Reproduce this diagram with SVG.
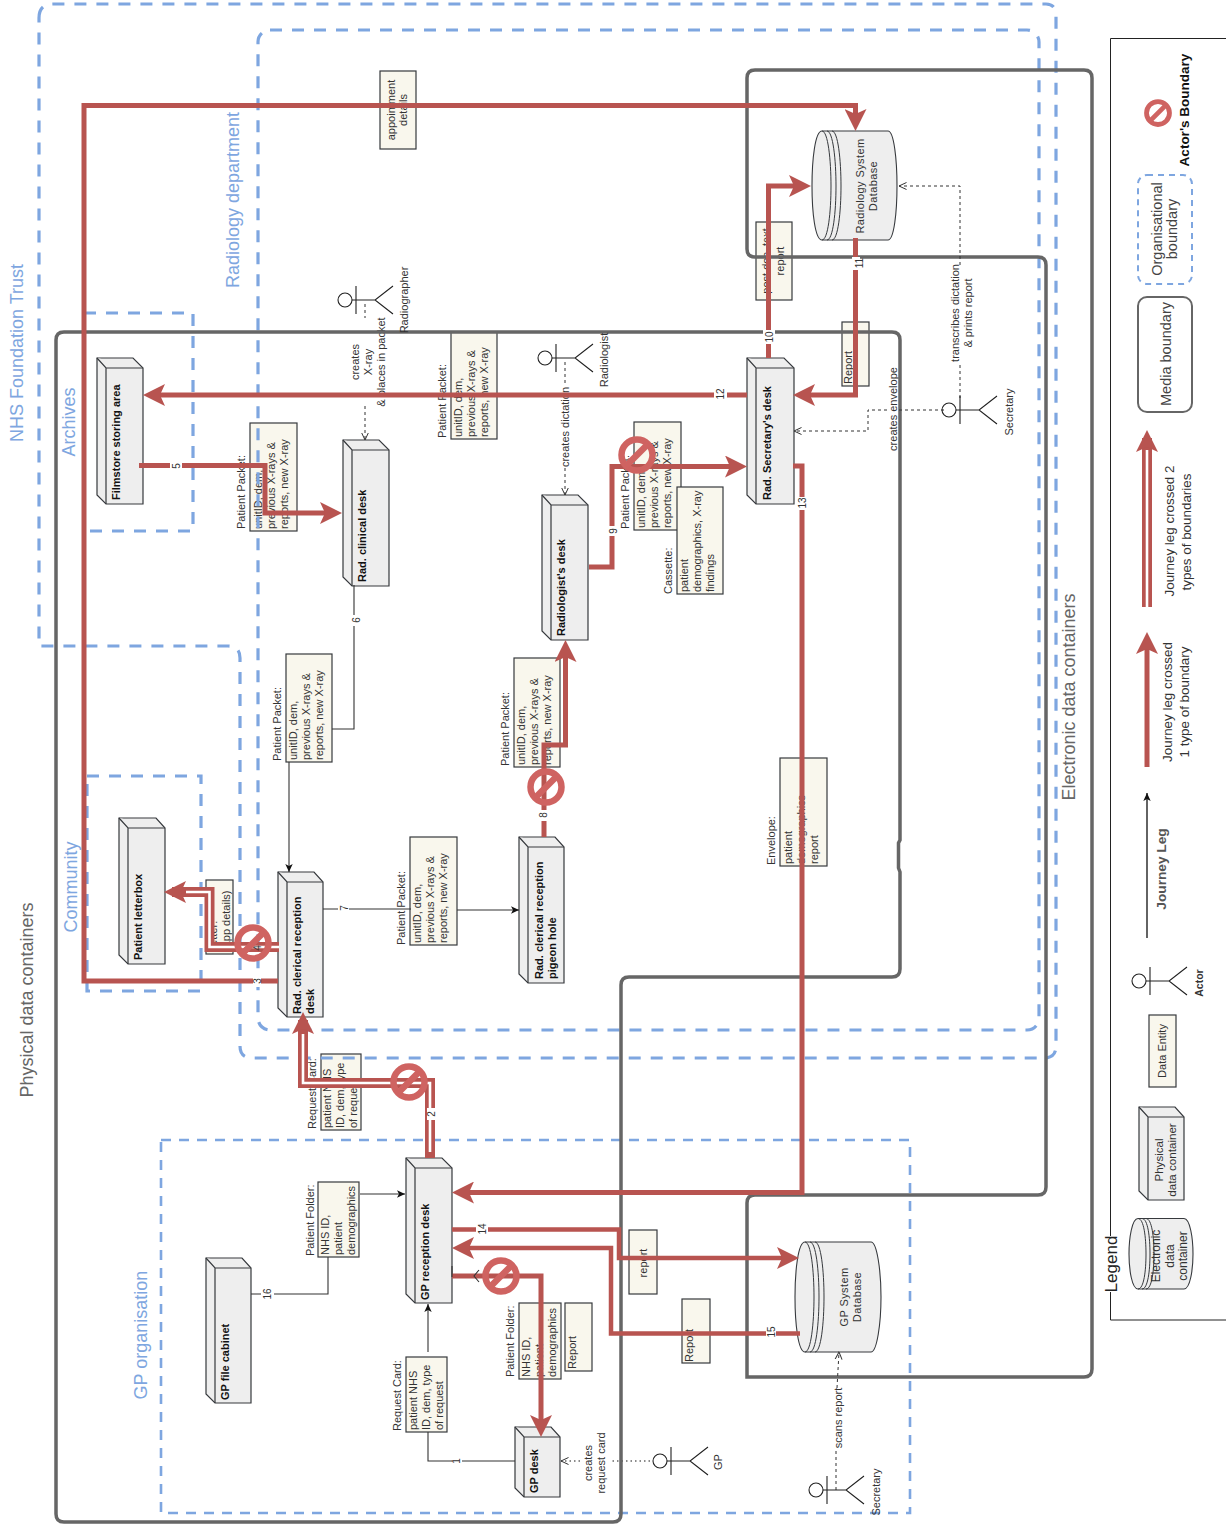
<svg xmlns="http://www.w3.org/2000/svg" width="1226" height="1526" viewBox="0 0 1226 1526">
<style>
text{font-family:"Liberation Sans",Arial,sans-serif;font-size:11px;fill:#333;dominant-baseline:central}
.m{text-anchor:middle}
.b{font-weight:bold;fill:#111}
.big{font-size:18px;fill:#7EA6E0;text-anchor:middle}
.grey{font-size:18px;fill:#666;text-anchor:middle}
.num{font-size:10px;text-anchor:middle}
.leg{font-size:14.500px;fill:#444;text-anchor:middle}
.j{font-size:13.400px;text-anchor:middle}
.face{fill:#eee;stroke:#36393d;stroke-width:1.2}
.data{fill:#f9f7ed;stroke:#36393d;stroke-width:1.2}
.db{fill:#eee;stroke:#36393d;stroke-width:1.1}
.arc{fill:none;stroke:#36393d;stroke-width:1}
.org{fill:none;stroke:#7EA6E0;stroke-width:3.2;stroke-dasharray:12 10}
.orgs{fill:none;stroke:#7EA6E0;stroke-width:2.6;stroke-dasharray:10 8}
.media{fill:none;stroke:#666;stroke-width:3.5}
.ra{fill:none;stroke:#B85450;stroke-width:5;marker-end:url(#head)}
.dbl{fill:none;stroke:#B85450;stroke-width:10;marker-end:url(#head)}
.core{fill:none;stroke:#fff;stroke-width:2.6}
.thin{fill:none;stroke:#333;stroke-width:1.1}
.ta{fill:none;stroke:#333;stroke-width:1.1;marker-end:url(#tip)}
.dash{fill:none;stroke:#333;stroke-width:1;stroke-dasharray:3 3;marker-end:url(#open)}
.dot{fill:none;stroke:#666;stroke-width:1.5;stroke-dasharray:1.5 3;marker-end:url(#open)}
.w{fill:#fff}
.act{fill:none;stroke:#222;stroke-width:1.1}
</style>
<defs>
<marker id="head" markerUnits="userSpaceOnUse" viewBox="0 -11 22 22" markerWidth="22" markerHeight="22" refX="14" refY="0" orient="auto"><path d="M0-11 22 0 0 11 5 0Z" fill="#B85450"/></marker>
<marker id="tip" markerUnits="userSpaceOnUse" viewBox="0 -4 8 8" markerWidth="8" markerHeight="8" refX="8" refY="0" orient="auto"><path d="M0-3.7 8 0 0 3.7 2 0Z" fill="#111"/></marker>
<marker id="open" markerUnits="userSpaceOnUse" viewBox="0 -5 8 10" markerWidth="8" markerHeight="10" refX="7.5" refY="0" orient="auto"><path d="M0-3.5 7.5 0 0 3.5" fill="none" stroke="#333"/></marker>
<g id="actor" class="act"><circle cx="0" cy="0" r="7"/><path d="M11-14V14M7 0H30M48-14 30 0 48 14"/></g>
<g id="no"><circle cx="0" cy="0" r="15.5" fill="none" stroke="#CF6361" stroke-width="6.5"/><path d="M-11 11 11-11" stroke="#CF6361" stroke-width="6.5"/></g>
</defs>

<g id="filmstore"><path class="face" d="M97 358H133L143 368V504H106L97 495Z"/><path class="face" d="M97 358 106 368H143M106 368V504"/><text class="b" x="116" y="500" transform="rotate(-90 116 500)">Filmstore storing area</text></g>
<g id="clinical-desk"><path class="face" d="M343 440H379L389 450V586H352L343 577Z"/><path class="face" d="M343 440 352 450H389M352 450V586"/><text class="b" x="362" y="582" transform="rotate(-90 362 582)">Rad. clinical desk</text></g>
<g id="radiologist-desk"><path class="face" d="M542 495H578L588 505V640H551L542 631Z"/><path class="face" d="M542 495 551 505H588M551 505V640"/><text class="b" x="561" y="636" transform="rotate(-90 561 636)">Radiologist's desk</text></g>
<g id="secretary-desk"><path class="face" d="M747 358H784L794 368V504H756L747 495Z"/><path class="face" d="M747 358 756 368H794M756 368V504"/><text class="b" x="767" y="500" transform="rotate(-90 767 500)">Rad. Secretary's desk</text></g>
<g id="letterbox"><path class="face" d="M119 818H156L165 828V964H128L119 955Z"/><path class="face" d="M119 818 128 828H165M128 828V964"/><text class="b" x="138" y="960" transform="rotate(-90 138 960)">Patient letterbox</text></g>
<g id="clerical-desk"><path class="face" d="M278 872H314L323 882V1017H287L278 1008Z"/><path class="face" d="M278 872 287 882H323M287 882V1017"/><text class="b" x="297" y="1014" transform="rotate(-90 297 1014)">Rad. clerical reception</text><text class="b" x="310" y="1014" transform="rotate(-90 310 1014)">desk</text></g>
<g id="pigeon-hole"><path class="face" d="M519 837H555L564 847V983H528L519 974Z"/><path class="face" d="M519 837 528 847H564M528 847V983"/><text class="b" x="539" y="979" transform="rotate(-90 539 979)">Rad. clerical reception</text><text class="b" x="552" y="979" transform="rotate(-90 552 979)">pigeon hole</text></g>
<g id="gp-reception"><path class="face" d="M406 1158H442L452 1168V1303H415L406 1294Z"/><path class="face" d="M406 1158 415 1168H452M415 1168V1303"/><text class="b" x="425" y="1300" transform="rotate(-90 425 1300)">GP reception desk</text></g>
<g id="gp-cabinet"><path class="face" d="M206 1258H242L251 1268V1403H215L206 1394Z"/><path class="face" d="M206 1258 215 1268H251M215 1268V1403"/><text class="b" x="225" y="1400" transform="rotate(-90 225 1400)">GP file cabinet</text></g>
<g id="gp-desk"><path class="face" d="M515 1427H551L560 1437V1497H524L515 1488Z"/><path class="face" d="M515 1427 524 1437H560M524 1437V1497"/><text class="b" x="534" y="1493" transform="rotate(-90 534 1493)">GP desk</text></g>

<g id="radiology-db"><path class="db" d="M822 131H888C894 131 897 160 897 186 897 212 894 240 888 240H822C815 240 812 212 812 186 812 160 815 131 822 131Z"/><path class="arc" d="M822 131C828 131 831 160 831 186 831 212 828 240 822 240M827 131C833 131 836 160 836 186 836 212 833 240 827 240M832 131C838 131 841 160 841 186 841 212 838 240 832 240"/><text class="m" x="860" y="186" transform="rotate(-90 860 186)" style="letter-spacing:.4px">Radiology System</text><text class="m" x="873" y="186" transform="rotate(-90 873 186)" style="letter-spacing:.4px">Database</text></g>
<g id="gp-db"><path class="db" d="M805 1242H871C877 1242 881 1271 881 1297 881 1323 877 1352 871 1352H805C798 1352 795 1323 795 1297 795 1271 798 1242 805 1242Z"/><path class="arc" d="M805 1242C811 1242 814 1271 814 1297 814 1323 811 1352 805 1352M810 1242C816 1242 819 1271 819 1297 819 1323 816 1352 810 1352M815 1242C821 1242 824 1271 824 1297 824 1323 821 1352 815 1352"/><text class="m" x="844" y="1297" transform="rotate(-90 844 1297)" style="letter-spacing:.4px">GP System</text><text class="m" x="857" y="1297" transform="rotate(-90 857 1297)" style="letter-spacing:.4px">Database</text></g>

<g id="data-appointment"><rect class="data" x="380" y="71" width="36" height="78"/><text class="m" x="391" y="110" transform="rotate(-90 391 110)">appointment</text><text class="m" x="403" y="110" transform="rotate(-90 403 110)">details</text></g>
<g id="data-postdoc"><rect class="data" x="756" y="222" width="36" height="78"/><text class="m" x="766" y="261" transform="rotate(-90 766 261)">post doc. text</text><text class="m" x="780" y="261" transform="rotate(-90 780 261)">report</text></g>
<g id="data-report-a"><rect class="data" x="842" y="322" width="27" height="64"/><text x="848" y="384" transform="rotate(-90 848 384)">Report</text></g>
<g id="data-packet-1"><text x="241" y="529" transform="rotate(-90 241 529)">Patient Packet:</text><rect class="data" x="250" y="423" width="47" height="108"/><text x="258" y="529" transform="rotate(-90 258 529)">unitID, dem,</text><text x="271" y="529" transform="rotate(-90 271 529)">previous X-rays &amp;</text><text x="284" y="529" transform="rotate(-90 284 529)">reports, new X-ray</text></g>
<g id="data-packet-2"><text x="442" y="438" transform="rotate(-90 442 438)">Patient Packet:</text><rect class="data" x="451" y="332" width="46" height="107"/><text x="458" y="437" transform="rotate(-90 458 437)">unitID, dem,</text><text x="471" y="437" transform="rotate(-90 471 437)">previous X-rays &amp;</text><text x="484" y="437" transform="rotate(-90 484 437)">reports, new X-ray</text></g>
<g id="data-packet-3"><text x="277" y="761" transform="rotate(-90 277 761)">Patient Packet:</text><rect class="data" x="286" y="654" width="46" height="108"/><text x="293" y="760" transform="rotate(-90 293 760)">unitID, dem,</text><text x="306" y="760" transform="rotate(-90 306 760)">previous X-rays &amp;</text><text x="319" y="760" transform="rotate(-90 319 760)">reports, new X-ray</text></g>
<g id="data-packet-4"><text x="505" y="766" transform="rotate(-90 505 766)">Patient Packet:</text><rect class="data" x="514" y="658" width="46" height="109"/><text x="521" y="765" transform="rotate(-90 521 765)">unitID, dem,</text><text x="534" y="765" transform="rotate(-90 534 765)">previous X-rays &amp;</text><text x="547" y="765" transform="rotate(-90 547 765)">reports, new X-ray</text></g>
<g id="data-packet-5"><text x="401" y="945" transform="rotate(-90 401 945)">Patient Packet:</text><rect class="data" x="410" y="837" width="47" height="108"/><text x="417" y="943" transform="rotate(-90 417 943)">unitID, dem,</text><text x="430" y="943" transform="rotate(-90 430 943)">previous X-rays &amp;</text><text x="443" y="943" transform="rotate(-90 443 943)">reports, new X-ray</text></g>
<g id="data-packet-6"><text x="625" y="529" transform="rotate(-90 625 529)">Patient Packet:</text><rect class="data" x="634" y="422" width="47" height="108"/><text x="641" y="528" transform="rotate(-90 641 528)">unitID, dem,</text><text x="654" y="528" transform="rotate(-90 654 528)">previous X-rays &amp;</text><text x="667" y="528" transform="rotate(-90 667 528)">reports, new X-ray</text></g>
<g id="data-cassette"><text x="668" y="594" transform="rotate(-90 668 594)">Cassette:</text><rect class="data" x="677" y="487" width="46" height="107"/><text x="684" y="592" transform="rotate(-90 684 592)">patient</text><text x="697" y="592" transform="rotate(-90 697 592)">demographics, X-ray</text><text x="710" y="592" transform="rotate(-90 710 592)">findings</text></g>
<g id="data-envelope"><text x="771" y="865" transform="rotate(-90 771 865)">Envelope:</text><rect class="data" x="780" y="758" width="47" height="108"/><text x="788" y="864" transform="rotate(-90 788 864)">patient</text><text x="801" y="864" transform="rotate(-90 801 864)">demographics</text><text x="814" y="864" transform="rotate(-90 814 864)">report</text></g>
<g id="data-letter"><rect class="data" x="206" y="880" width="27" height="74"/><text x="213" y="952" transform="rotate(-90 213 952)">Letter:</text><text x="226" y="951" transform="rotate(-90 226 951)">(app details)</text></g>
<g id="data-request-1"><text x="312" y="1129" transform="rotate(-90 312 1129)">Request Card:</text><rect class="data" x="321" y="1054" width="40" height="76"/><text x="327" y="1128" transform="rotate(-90 327 1128)">patient NHS</text><text x="340" y="1128" transform="rotate(-90 340 1128)">ID, dem, type</text><text x="353" y="1128" transform="rotate(-90 353 1128)">of request</text></g>
<g id="data-folder-1"><text x="310" y="1256" transform="rotate(-90 310 1256)">Patient Folder:</text><rect class="data" x="318" y="1182" width="41" height="75"/><text x="325" y="1255" transform="rotate(-90 325 1255)">NHS ID,</text><text x="338" y="1255" transform="rotate(-90 338 1255)">patient</text><text x="351" y="1255" transform="rotate(-90 351 1255)">demographics</text></g>
<g id="data-request-2"><text x="397" y="1431" transform="rotate(-90 397 1431)">Request Card:</text><rect class="data" x="406" y="1357" width="41" height="75"/><text x="413" y="1430" transform="rotate(-90 413 1430)">patient NHS</text><text x="426" y="1430" transform="rotate(-90 426 1430)">ID, dem, type</text><text x="439" y="1430" transform="rotate(-90 439 1430)">of request</text></g>
<g id="data-folder-2"><text x="510" y="1377" transform="rotate(-90 510 1377)">Patient Folder:</text><rect class="data" x="519" y="1303" width="42" height="76"/><text x="526" y="1377" transform="rotate(-90 526 1377)">NHS ID,</text><text x="539" y="1377" transform="rotate(-90 539 1377)">patient</text><text x="552" y="1377" transform="rotate(-90 552 1377)">demographics</text></g>
<g id="data-report-b"><rect class="data" x="565" y="1303" width="27" height="68"/><text x="572" y="1369" transform="rotate(-90 572 1369)">Report</text></g>
<g id="data-report-c"><rect class="data" x="629" y="1230" width="28" height="64"/><text class="m" x="643" y="1263" transform="rotate(-90 643 1263)">report</text></g>
<g id="data-report-d"><rect class="data" x="682" y="1299" width="28" height="64"/><text x="689" y="1362" transform="rotate(-90 689 1362)">Report</text></g>

<g id="annotations">
<text class="m" x="355" y="362" transform="rotate(-90 355 362)">creates</text><text class="m" x="368" y="362" transform="rotate(-90 368 362)">X-ray</text><text class="m" x="381" y="362" transform="rotate(-90 381 362)">&amp; places in packet</text>
<text class="m" x="565" y="427" transform="rotate(-90 565 427)">creates dictation</text>
<text class="m" x="955" y="313" transform="rotate(-90 955 313)">transcribes dictation</text><text class="m" x="968" y="313" transform="rotate(-90 968 313)">&amp; prints report</text>
<text class="m" x="893" y="409" transform="rotate(-90 893 409)">creates envelope</text>
<text class="m" x="588" y="1463" transform="rotate(-90 588 1463)">creates</text><text class="m" x="601" y="1463" transform="rotate(-90 601 1463)">request card</text>
<text class="m" x="838" y="1418" transform="rotate(-90 838 1418)">scans report</text>
</g>

<g id="boundaries">
<path class="org" d="M39 18Q39 4 53 4H1046Q1056 4 1056 16V1046Q1056 1058 1044 1058H252Q240 1058 240 1046V658Q240 646 228 646H39Z"/>
<rect class="org" x="258" y="30" width="781" height="1000" rx="12"/>
<rect class="org" x="84" y="313" width="109" height="218"/>
<rect class="org" x="87" y="776" width="114" height="215"/>
<rect class="orgs" x="161" y="1140" width="749" height="373"/>
<path class="media" d="M64 332H892Q900 332 900 340V840L898.500 843V868L900 872V969Q900 977 892 977H629Q621 977 621 985V1514Q621 1522 613 1522H64Q56 1522 56 1514V340Q56 332 64 332Z"/>
<path class="media" d="M755 70H1084Q1092 70 1092 78V1369Q1092 1377 1084 1377H747V1203Q747 1195 755 1195H1038Q1046 1195 1046 1187V265Q1046 257 1038 257H755Q747 257 747 249V78Q747 70 755 70Z"/>
</g>

<g id="connectors">
<path class="ra" d="M278 981H84V105.500H855.500V123"/>
<path class="ra" d="M139 465.500H265V513H334"/>
<path class="ra" d="M747 395H151"/>
<path class="ra" d="M768.500 358V186H803"/>
<path class="ra" d="M855.500 238V395H801"/>
<path class="ra" d="M793 466H802V1192.500H460"/>
<path class="ra" style="stroke-width:4.500" d="M452 1229.500H619V1258H791"/>
<path class="ra" style="stroke-width:4.500" d="M800 1333.500H611V1248H460"/>
<path class="ra" d="M452 1276H541V1429"/>
<path class="ra" d="M544 837V745H565.500V648"/>
<path class="ra" d="M589 567H612V466.500H739"/>
<path class="dbl" d="M279 947H209.500V892H172"/>
<path class="core" d="M279 947H209.500V892H186"/>
<path class="dbl" d="M430 1158V1083H303V1020"/>
<path class="core" d="M430 1152V1083H303V1034"/>
<path class="thin" d="M354 585V729H332"/><path class="ta" d="M289 762V872"/>
<path class="thin" d="M323 909H411"/><path class="ta" d="M457 910H519"/>
<path class="thin" d="M515 1461H428V1432"/><path class="ta" d="M428 1352V1304"/>
<path class="thin" d="M251 1294H328V1257"/><path class="ta" d="M360 1194H405"/>
<path class="thin" d="M452 1266V1277M479 1270 474 1276 479 1282"/>
<path class="dash" d="M365 304V318M365 406V440"/>
<path class="dash" d="M565 362V386M565 468V495"/>
<path class="dash" d="M960 398V364M960 265V186H899"/>
<path class="dash" d="M944 410H899M887 410H868V431H794"/>
<path class="dot" d="M650 1461H610M580 1461H561"/>
<path class="dash" d="M836 1490V1450M837 1388 839 1352"/>
<rect class="w" x="170" y="460" width="12" height="11"/><text class="num" x="176" y="466" transform="rotate(-90 176 466)">5</text>
<rect class="w" x="714" y="388" width="13" height="14"/><text class="num" x="720" y="394" transform="rotate(-90 720 394)">12</text>
<rect class="w" x="763" y="330" width="12" height="14"/><text class="num" x="769" y="337" transform="rotate(-90 769 337)">10</text>
<rect class="w" x="852" y="257" width="8" height="13"/><text class="num" x="859" y="263" transform="rotate(-90 859 263)">11</text>
<rect class="w" x="797" y="497" width="10" height="13"/><text class="num" x="802" y="503" transform="rotate(-90 802 503)">13</text>
<rect class="w" x="476" y="1224" width="12" height="11"/><text class="num" x="482" y="1229" transform="rotate(-90 482 1229)">14</text>
<rect class="w" x="766" y="1328" width="10" height="11"/><text class="num" x="771" y="1332" transform="rotate(-90 771 1332)">15</text>
<rect class="w" x="261" y="1288" width="13" height="12"/><text class="num" x="267" y="1294" transform="rotate(-90 267 1294)">16</text>
<rect class="w" x="538" y="810" width="10" height="11"/><text class="num" x="543" y="815" transform="rotate(-90 543 815)">8</text>
<rect class="w" x="608" y="526" width="9" height="10"/><text class="num" x="613" y="531" transform="rotate(-90 613 531)">9</text>
<rect class="w" x="351" y="615" width="10" height="11"/><text class="num" x="356" y="620" transform="rotate(-90 356 620)">6</text>
<rect class="w" x="338" y="903" width="11" height="11"/><text class="num" x="344" y="908" transform="rotate(-90 344 908)">7</text>
<rect class="w" x="452" y="1456" width="10" height="10"/><text class="num" x="456" y="1461" transform="rotate(-90 456 1461)">1</text>
<rect class="w" x="427" y="1108" width="9" height="12"/><text class="num" x="431" y="1114" transform="rotate(-90 431 1114)">2</text>
<rect class="w" x="253" y="975" width="8" height="12"/><text class="num" x="257" y="981" transform="rotate(-90 257 981)">3</text>
<text class="num" x="257" y="948" transform="rotate(-90 257 948)">4</text>
</g>

<g id="actor-boundaries">
<use href="#no" x="409" y="1082"/>
<use href="#no" x="253" y="943"/>
<use href="#no" x="546" y="787"/>
<use href="#no" x="637" y="455"/>
<use href="#no" x="501" y="1276"/>
</g>

<g id="actor-radiographer"><use href="#actor" x="345" y="300"/><text class="m" x="404" y="300" transform="rotate(-90 404 300)">Radiographer</text></g>
<g id="actor-radiologist"><use href="#actor" x="545" y="358"/><text class="m" x="604" y="360" transform="rotate(-90 604 360)">Radiologist</text></g>
<g id="actor-secretary-1"><use href="#actor" x="949" y="410"/><text class="m" x="1009" y="412" transform="rotate(-90 1009 412)">Secretary</text></g>
<g id="actor-gp"><use href="#actor" x="660" y="1461"/><text class="m" x="718" y="1462" transform="rotate(-90 718 1462)">GP</text></g>
<g id="actor-secretary-2"><use href="#actor" x="816" y="1490"/><text class="m" x="876" y="1492" transform="rotate(-90 876 1492)">Secretary</text></g>

<g id="titles">
<text class="big" x="17" y="353" transform="rotate(-90 17 353)">NHS Foundation Trust</text>
<text class="big" x="233" y="200" transform="rotate(-90 233 200)">Radiology department</text>
<text class="big" x="69" y="422" transform="rotate(-90 69 422)">Archives</text>
<text class="big" x="71" y="887" transform="rotate(-90 71 887)">Community</text>
<text class="big" x="141" y="1335" transform="rotate(-90 141 1335)">GP organisation</text>
<text class="grey" x="27" y="1000" transform="rotate(-90 27 1000)">Physical data containers</text>
<text class="grey" x="1069" y="697" transform="rotate(-90 1069 697)">Electronic data containers</text>
</g>

<g id="legend">
<path fill="none" stroke="#222" d="M1226 38.500H1110.500V1320H1226"/>
<rect class="w" x="1100" y="1236" width="22" height="56"/>
<text class="m" x="1111" y="1264" transform="rotate(-90 1111 1264)" style="font-size:17px;fill:#222">Legend</text>
<use href="#no" transform="translate(1158 113) scale(.74)"/>
<text class="m b" x="1184" y="110" transform="rotate(-90 1184 110)" style="font-size:13.500px">Actor's Boundary</text>
<rect x="1138" y="175" width="54" height="109" rx="9" fill="none" stroke="#7EA6E0" stroke-width="2" stroke-dasharray="6 5"/>
<text class="leg" x="1157" y="229" transform="rotate(-90 1157 229)">Organisational</text><text class="leg" x="1172" y="229" transform="rotate(-90 1172 229)">boundary</text>
<rect x="1138" y="297" width="54" height="115" rx="9" fill="none" stroke="#666" stroke-width="2"/>
<text class="leg" x="1166" y="354" transform="rotate(-90 1166 354)">Media boundary</text>
<path class="dbl" d="M1147 607V438"/><path class="core" d="M1147 607V450"/>
<text class="j" x="1169" y="531" transform="rotate(-90 1169 531)">Journey leg crossed 2</text><text class="j" x="1186" y="532" transform="rotate(-90 1186 532)">types of boundaries</text>
<path class="ra" d="M1147 767V640"/>
<text class="j" x="1167" y="702" transform="rotate(-90 1167 702)">Journey leg crossed</text><text class="j" x="1184" y="702" transform="rotate(-90 1184 702)">1 type of boundary</text>
<path fill="none" stroke="#222" stroke-width="1.400" marker-end="url(#tip)" d="M1147 938V793"/>
<text class="m" x="1161" y="869" transform="rotate(-90 1161 869)" style="font-size:13.700px;font-weight:bold;fill:#555">Journey Leg</text>
<use href="#actor" x="1139" y="981"/>
<text class="m b" x="1199" y="983" transform="rotate(-90 1199 983)" style="font-size:10.500px;fill:#333">Actor</text>
<rect class="data" x="1149" y="1015" width="27" height="72"/><text class="m" x="1162" y="1051" transform="rotate(-90 1162 1051)">Data Entity</text>
<path class="face" d="M1139 1107H1175L1184 1117V1200H1148L1139 1191Z"/><path class="face" d="M1139 1107 1148 1117H1184M1148 1117V1200"/>
<text class="m" x="1158" y="1160" transform="rotate(-90 1158 1160)" style="font-size:11.600px">Physical</text><text class="m" x="1171" y="1160" transform="rotate(-90 1171 1160)" style="font-size:11.600px">data container</text>
<path class="db" d="M1138 1218.500H1184C1190 1218.500 1193 1238 1193 1254 1193 1270 1190 1289 1184 1289H1138C1132 1289 1129 1270 1129 1254 1129 1238 1132 1218.500 1138 1218.500Z"/>
<path class="arc" d="M1138 1218.500C1144 1218.500 1146 1238 1146 1254 1146 1270 1144 1289 1138 1289M1142 1218.500C1148 1218.500 1150 1238 1150 1254 1150 1270 1148 1289 1142 1289M1146 1218.500C1152 1218.500 1154 1238 1154 1254 1154 1270 1152 1289 1146 1289"/>
<text class="m" x="1156" y="1256" transform="rotate(-90 1156 1256)" style="font-size:12px">Electronic</text><text class="m" x="1170" y="1256" transform="rotate(-90 1170 1256)" style="font-size:12px">data</text><text class="m" x="1183" y="1256" transform="rotate(-90 1183 1256)" style="font-size:12px">container</text>
</g>
</svg>
